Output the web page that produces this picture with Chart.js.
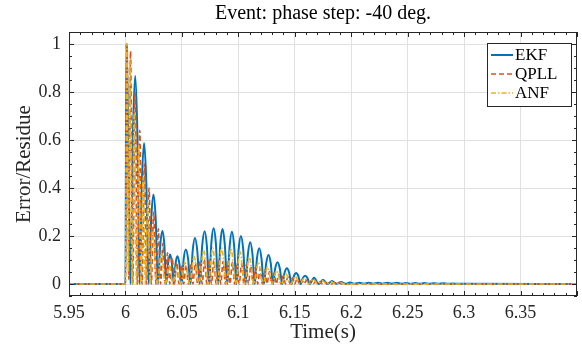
<!DOCTYPE html>
<html>
<head>
<meta charset="utf-8">
<script src="https://cdn.jsdelivr.net/npm/chart.js@4.4.0/dist/chart.umd.min.js"></script>
<style>
  html, body { margin: 0; padding: 0; background: #fff; }
</style>
</head>
<body>
<canvas id="errorChart" width="582" height="350"></canvas>
<script>
// Tick labels
const xTicks = [5.95, 6, 6.05, 6.1, 6.15, 6.2, 6.25, 6.3, 6.35];
const yTicks = [0, 0.2, 0.4, 0.6, 0.8, 1];

// EKF error (troughs, shoulders and peaks)
const ekfTime = [5.95, 6.0, 6.0008, 6.0045,
  6.0066, 6.0086, 6.0106, 6.0125, 6.0145, 6.0165, 6.0185, 6.0206,
  6.0228, 6.0248, 6.0268, 6.0288, 6.0308, 6.0327, 6.0345, 6.0361,
  6.0379, 6.0395, 6.0411, 6.0428, 6.0444, 6.0460, 6.0478, 6.0498,
  6.0516, 6.0535, 6.0555, 6.0576, 6.0596, 6.0616, 6.0636, 6.0658,
  6.0680, 6.0701, 6.0721, 6.0741, 6.0761, 6.0781, 6.0801, 6.0821,
  6.0840, 6.0860, 6.0880, 6.0902, 6.0923, 6.0943, 6.0963, 6.0983,
  6.1003, 6.1023, 6.1043, 6.1064, 6.1085, 6.1105, 6.1125, 6.1145,
  6.1165, 6.1185, 6.1205, 6.1226, 6.1247, 6.1267, 6.1287, 6.1307,
  6.1327, 6.1347, 6.1367, 6.1389, 6.1410, 6.1430, 6.1450, 6.1471,
  6.1492, 6.1512, 6.1532, 6.1552, 6.1572, 6.1592, 6.1612, 6.1632,
  6.1671, 6.1711, 6.1750, 6.1790, 6.1830, 6.1870,
  6.1910, 6.1950, 6.1990, 6.2030, 6.2072, 6.2114, 6.2155, 6.2196, 6.2237, 6.2278,
  6.2320, 6.2360, 6.2402, 6.2443, 6.2485, 6.2526, 6.2568, 6.2608, 6.2650, 6.2691,
  6.2733, 6.2774, 6.2815, 6.2856, 6.2898, 6.2940, 6.30, 6.40];
const ekfValue = [0, 0, 1.0, 0,
  0.62, 0.868, 0.62, 0, 0.42, 0.588, 0.42, 0,
  0.27, 0.373, 0.27, 0, 0.16, 0.221, 0.16, 0,
  0.09, 0.123, 0.09, 0, 0.085, 0.116, 0.085, 0,
  0.105, 0.144, 0.105, 0, 0.14, 0.192, 0.14, 0,
  0.16, 0.220, 0.16, 0, 0.17, 0.232, 0.17, 0,
  0.165, 0.229, 0.165, 0, 0.157, 0.218, 0.157, 0,
  0.145, 0.200, 0.145, 0, 0.125, 0.174, 0.125, 0,
  0.107, 0.149, 0.107, 0, 0.087, 0.121, 0.087, 0,
  0.066, 0.091, 0.066, 0, 0.048, 0.066, 0.048, 0,
  0.033, 0.046, 0.033, 0, 0.025, 0.034, 0.025, 0,
  0.026, 0, 0.018, 0, 0.012, 0.001,
  0.008, 0.001, 0.006, 0.001, 0.005, 0.001, 0.005, 0.001, 0.005, 0.001,
  0.005, 0.001, 0.005, 0.001, 0.004, 0.001, 0.004, 0.001, 0.004, 0.001,
  0.003, 0.001, 0.003, 0.001, 0.002, 0.001, 0.001, 0];

// QPLL error
const qpllTime = [5.95, 6.0, 6.0015, 6.0030, 6.0045, 6.0065, 6.0086, 6.0106, 6.0127, 6.0147,
  6.0168, 6.0188, 6.0209, 6.0229, 6.0250, 6.0270, 6.0291, 6.0311, 6.0332, 6.0352,
  6.0373, 6.0393, 6.0414, 6.0434, 6.0455, 6.0475, 6.0496, 6.0516, 6.0537, 6.0557,
  6.0578, 6.0598, 6.0619, 6.0639, 6.0660, 6.0680, 6.0701, 6.0721, 6.0742, 6.0762,
  6.0783, 6.0803, 6.0824, 6.0844, 6.0865, 6.0885, 6.0906, 6.0926, 6.0947, 6.0967,
  6.0988, 6.1008, 6.1029, 6.1049, 6.1070, 6.1090, 6.1111, 6.1131, 6.1152, 6.1172,
  6.1193, 6.1213, 6.1234, 6.1254, 6.1275, 6.1295, 6.1316, 6.1336, 6.1357, 6.1377,
  6.1398, 6.1418, 6.1439, 6.1459, 6.1480, 6.1500, 6.1521, 6.1541, 6.1562, 6.1582,
  6.1603, 6.1623, 6.1644, 6.1664, 6.1685, 6.1705, 6.1726, 6.1746, 6.1767, 6.1787,
  6.1808, 6.1828, 6.1849, 6.1869, 6.1890, 6.1910, 6.40];
const qpllValue = [0, 0, 1.0, 0.02, 0.97, 0, 0.80, 0, 0.64, 0,
  0.50, 0, 0.40, 0, 0.30, 0, 0.23, 0, 0.17, 0,
  0.13, 0, 0.11, 0, 0.09, 0, 0.08, 0, 0.08, 0,
  0.085, 0, 0.09, 0, 0.095, 0, 0.10, 0, 0.10, 0,
  0.10, 0, 0.098, 0, 0.095, 0, 0.092, 0, 0.09, 0,
  0.088, 0, 0.085, 0, 0.08, 0, 0.075, 0, 0.07, 0,
  0.064, 0, 0.058, 0, 0.052, 0, 0.046, 0, 0.040, 0,
  0.035, 0, 0.030, 0, 0.026, 0, 0.022, 0, 0.019, 0,
  0.016, 0, 0.013, 0, 0.011, 0, 0.009, 0, 0.008, 0,
  0.007, 0, 0.006, 0, 0.005, 0, 0];

// ANF error
const anfTime = [5.95, 6.0, 6.0012, 6.0026, 6.0040, 6.0059, 6.0078, 6.0098, 6.0118, 6.0138,
  6.0157, 6.0177, 6.0198, 6.0219, 6.0240, 6.0280, 6.0319, 6.0353, 6.0387, 6.0420,
  6.0452, 6.0490, 6.0527, 6.0568, 6.0608, 6.0650, 6.0693, 6.0733, 6.0773, 6.0813,
  6.0852, 6.0894, 6.0935, 6.0975, 6.1015, 6.1056, 6.1097, 6.1137, 6.1177, 6.1218,
  6.1259, 6.1299, 6.1339, 6.1381, 6.1422, 6.1463, 6.1504, 6.1544, 6.1584, 6.1624,
  6.1663, 6.1703, 6.1742, 6.1782, 6.1822, 6.1862, 6.1902, 6.1942, 6.40];
const anfValue = [0, 0, 1.0, 0.05, 0.93, 0, 0.72, 0, 0.58, 0,
  0.45, 0, 0.34, 0, 0.22, 0, 0.13, 0, 0.08, 0,
  0.072, 0, 0.09, 0, 0.115, 0, 0.14, 0, 0.15, 0,
  0.152, 0, 0.148, 0, 0.135, 0, 0.112, 0, 0.09, 0,
  0.072, 0, 0.056, 0, 0.042, 0, 0.032, 0, 0.025, 0,
  0.019, 0, 0.014, 0, 0.009, 0, 0.006, 0, 0];

const FONT = '"Liberation Serif", "Times New Roman", serif';
const AXIS = '#262626';
const GRID = '#e0e0e0';

function toPoints(times, values) {
    return times.map((t, i) => ({ x: t, y: values[i] }));
}

// box, inward ticks and legend drawn like MATLAB
const matlabAxes = {
    id: 'matlabAxes',
    afterDraw(chart) {
        const ctx = chart.ctx;
        const { left, right, top, bottom } = chart.chartArea;
        const xs = chart.scales.x;
        const ys = chart.scales.y;
        ctx.save();
        ctx.strokeStyle = AXIS;
        ctx.lineWidth = 1;
        ctx.beginPath();
        for (let i = 0; i <= 45; i++) {
            const px = Math.round(xs.getPixelForValue(5.95 + i * 0.01)) + 0.5;
            const len = (i % 5 === 0) ? 5 : 3;
            ctx.moveTo(px, bottom); ctx.lineTo(px, bottom - len);
            ctx.moveTo(px, top); ctx.lineTo(px, top + len);
        }
        for (let i = 0; i <= 22; i++) {
            const py = Math.round(ys.getPixelForValue(-0.05 + i * 0.05)) + 0.5;
            const len = ((i - 1) % 4 === 0) ? 5 : 3;
            ctx.moveTo(left, py); ctx.lineTo(left + len, py);
            ctx.moveTo(right, py); ctx.lineTo(right - len, py);
        }
        ctx.stroke();
        ctx.strokeRect(Math.round(left) + 0.5, Math.round(top) + 0.5,
            Math.round(right - left) - 1, Math.round(bottom - top) - 1);

        // legend
        const bx = 487.5, by = 43.5, bw = 84, bh = 63;
        ctx.fillStyle = '#fff';
        ctx.fillRect(bx, by, bw, bh);
        ctx.strokeRect(bx, by, bw, bh);
        ctx.font = '17px ' + FONT;
        ctx.textBaseline = 'middle';
        chart.data.datasets.forEach((ds, i) => {
            const ly = 55 + i * 19;
            ctx.strokeStyle = ds.borderColor;
            ctx.lineWidth = ds.borderWidth;
            ctx.setLineDash(ds.borderDash || []);
            ctx.beginPath();
            ctx.moveTo(491, ly); ctx.lineTo(513, ly);
            ctx.stroke();
            ctx.setLineDash([]);
            ctx.fillStyle = '#000';
            ctx.fillText(ds.label, 515, ly + 1);
        });
        ctx.restore();
    }
};

const ctx = document.getElementById('errorChart').getContext('2d');
new Chart(ctx, {
    type: 'line',
    data: {
        datasets: [
            { label: 'EKF', data: toPoints(ekfTime, ekfValue), borderColor: '#0072BD', borderWidth: 2, order: 3 },
            { label: 'QPLL', data: toPoints(qpllTime, qpllValue), borderColor: '#D95319', borderWidth: 1.6, borderDash: [5, 3], order: 2 },
            { label: 'ANF', data: toPoints(anfTime, anfValue), borderColor: '#EDB120', borderWidth: 1.6, borderDash: [5, 2, 1.5, 2], order: 1 }
        ].map(ds => Object.assign(ds, { pointRadius: 0, fill: false, cubicInterpolationMode: 'monotone' }))
    },
    options: {
        responsive: false,
        animation: false,
        layout: { padding: { left: 0, right: 5, top: 0, bottom: 0 } },
        plugins: {
            legend: { display: false },
            tooltip: { enabled: false },
            title: {
                display: true,
                text: 'Event: phase step: -40 deg.',
                fullSize: false,
                color: '#000',
                font: { family: FONT, size: 20, weight: 'normal' },
                padding: { top: 2, bottom: 6 }
            }
        },
        scales: {
            x: {
                type: 'linear',
                min: 5.95,
                max: 6.4,
                afterBuildTicks: s => { s.ticks = xTicks.map(v => ({ value: v })); },
                afterFit: s => { s.height = 54; },
                grid: { color: GRID, drawTicks: false },
                border: { display: false },
                ticks: {
                    padding: 6,
                    color: AXIS,
                    autoSkip: false,
                    maxRotation: 0,
                    font: { family: FONT, size: 18 },
                    callback: v => String(Math.round(v * 100) / 100)
                },
                title: {
                    display: true,
                    text: 'Time(s)',
                    color: AXIS,
                    font: { family: FONT, size: 21 },
                    padding: { top: 0, bottom: 5 }
                }
            },
            y: {
                min: -0.05,
                max: 1.05,
                afterBuildTicks: s => { s.ticks = yTicks.map(v => ({ value: v })); },
                afterFit: s => { s.width = 69; },
                grid: { color: GRID, drawTicks: false },
                border: { display: false },
                ticks: {
                    padding: 8,
                    color: AXIS,
                    font: { family: FONT, size: 18 },
                    callback: v => String(Math.round(v * 10) / 10)
                },
                title: {
                    display: true,
                    text: 'Error/Residue',
                    color: AXIS,
                    font: { family: FONT, size: 21 },
                    padding: { top: 12, bottom: 0 }
                }
            }
        }
    },
    plugins: [matlabAxes]
});
</script>
</body>
</html>
